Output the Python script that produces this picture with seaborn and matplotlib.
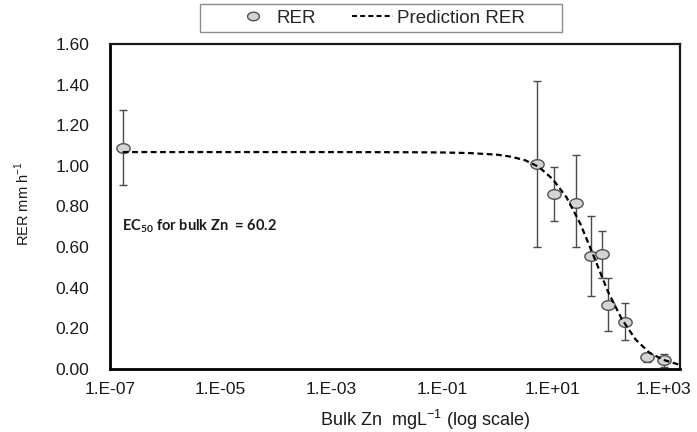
import numpy as np
import pandas as pd
import matplotlib
matplotlib.use("Agg")
import matplotlib.pyplot as plt
import seaborn as sns
from matplotlib.path import Path
from matplotlib.patches import Rectangle
from matplotlib.lines import Line2D
from matplotlib.ticker import FixedLocator, FixedFormatter, NullLocator, FormatStrFormatter

# ---------------- data ----------------
zn_conc = [1.7e-7, 5.2, 10.5, 26, 50, 78, 100, 205, 505, 1020]
rer_mean = [1.09, 1.01, 0.86, 0.815, 0.555, 0.565, 0.315, 0.23, 0.06, 0.044]
rer_upper = [1.277, 1.42, 0.993, 1.055, 0.752, 0.678, 0.45, 0.326, 0.08, 0.076]
rer_lower = [0.908, 0.60, 0.727, 0.60, 0.36, 0.45, 0.186, 0.141, 0.035, 0.01]

pred_conc = [1.7e-7, 1e-3, 3.16e-2, 0.1, 0.316, 1.0, 1.78, 3.16, 5.62, 10, 17.8,
             31.6, 56.2, 100, 178, 316, 562, 1000, 2000]
pred_rer = [1.068, 1.068, 1.067, 1.066, 1.063, 1.055, 1.045, 1.028, 0.995, 0.935,
            0.845, 0.715, 0.55, 0.38, 0.245, 0.145, 0.08, 0.045, 0.02]

x_ticks = [1e-7, 1e-5, 1e-3, 1e-1, 1e1, 1e3]
x_tick_labels = ["1.E-07", "1.E-05", "1.E-03", "1.E-01", "1.E+01", "1.E+03"]
y_ticks = [0.0, 0.2, 0.4, 0.6, 0.8, 1.0, 1.2, 1.4, 1.6]

series_labels = ["RER", "Prediction RER"]
ec50_text = "EC$_{\\mathbf{50}}$ for bulk Zn  = 60.2"
x_label = "Bulk Zn  mgL$^{\\mathregular{-1}}$ (log scale)"
y_label = "RER mm h$^{\\mathregular{-1}}$"

obs = pd.DataFrame({"conc": zn_conc, "rer": rer_mean,
                    "lo": rer_lower, "hi": rer_upper})
pred = pd.DataFrame({"conc": pred_conc, "rer": pred_rer})

# ---------------- style ----------------
sns.set_style("white")
plt.rcParams["font.family"] = ["Liberation Sans", "DejaVu Sans"]
plt.rcParams["mathtext.fontset"] = "custom"
plt.rcParams["mathtext.rm"] = "Lato"
plt.rcParams["mathtext.bf"] = "Lato:bold"

W, H = 697, 432
fig = plt.figure(figsize=(W / 100, H / 100), dpi=100)
ax = fig.add_axes([110 / W, 1 - 369 / H, 570 / W, 325 / H])

# ellipse marker
t = np.linspace(0, 2 * np.pi, 60)
ell = Path(np.column_stack([np.cos(t), 0.72 * np.sin(t)]), closed=True)

# error bars
ax.errorbar(obs["conc"], obs["rer"],
            yerr=[obs["rer"] - obs["lo"], obs["hi"] - obs["rer"]],
            fmt="none", ecolor="#4a4a4a", elinewidth=1.0, capsize=2.6,
            capthick=1.0, zorder=2)

sns.scatterplot(data=obs, x="conc", y="rer", marker=ell, s=92,
                color="#d4d4d4", edgecolor="#505050", linewidth=1.0,
                zorder=3, ax=ax, legend=False)

sns.lineplot(data=pred, x="conc", y="rer", color="black", linewidth=1.6,
             linestyle=(0, (2.6, 1.6)), zorder=4, ax=ax, legend=False)

ax.set_xscale("log")
ax.set_xlim(1e-7, 2000)
ax.set_ylim(0, 1.6)
ax.xaxis.set_major_locator(FixedLocator(x_ticks))
ax.xaxis.set_major_formatter(FixedFormatter(x_tick_labels))
ax.xaxis.set_minor_locator(NullLocator())
ax.yaxis.set_major_locator(FixedLocator(y_ticks))
ax.yaxis.set_major_formatter(FormatStrFormatter("%.2f"))

ax.tick_params(axis="both", which="major", direction="out", length=5,
               width=1.0, color="#808080", labelsize=12.5, labelcolor="#1a1a1a")
ax.tick_params(axis="y", pad=10)
ax.tick_params(axis="x", pad=4)

for side in ["left", "bottom"]:
    ax.spines[side].set_linewidth(2.0)
    ax.spines[side].set_color("black")
for side in ["top", "right"]:
    ax.spines[side].set_linewidth(1.6)
    ax.spines[side].set_color("#1a1a1a")
    ax.spines[side].set_visible(True)

ax.set_xlabel(x_label, fontsize=13, color="#1a1a1a")
ax.set_ylabel(y_label, fontsize=10.5, color="#1a1a1a")
ax.xaxis.label.set_va("center")
ax.yaxis.label.set_va("center")
ax.xaxis.set_label_coords((425 - 110) / 570, (369 - 420) / 325)
ax.yaxis.set_label_coords((22 - 110) / 570, (369 - 204) / 325)

ax.text(0.021, (369 - 226) / 325, ec50_text, transform=ax.transAxes,
        fontsize=10.5, fontweight="bold", family=["Lato", "DejaVu Sans"],
        color="#1a1a1a", va="center", ha="left")

# legend
handles = [
    Line2D([], [], linestyle="none", marker=ell, markersize=8.5,
           markerfacecolor="#d4d4d4", markeredgecolor="#505050",
           markeredgewidth=1.0),
    Line2D([], [], color="black", linewidth=1.4, linestyle=(0, (2.6, 1.6))),
]
fig.legend(handles, series_labels, loc="center left",
           bbox_to_anchor=(232 / W, 1 - 18 / H), bbox_transform=fig.transFigure,
           ncol=2, frameon=False, borderpad=0, borderaxespad=0,
           handlelength=2.2, handletextpad=0.2, columnspacing=1.9,
           prop={"family": ["Liberation Sans", "DejaVu Sans"], "size": 13.5})
fig.add_artist(Rectangle((200 / W, 1 - 32 / H), 362 / W, 28 / H,
                         transform=fig.transFigure, fill=False,
                         edgecolor="#8c8c8c", linewidth=1.0))

fig.savefig("out.png", dpi=100)
